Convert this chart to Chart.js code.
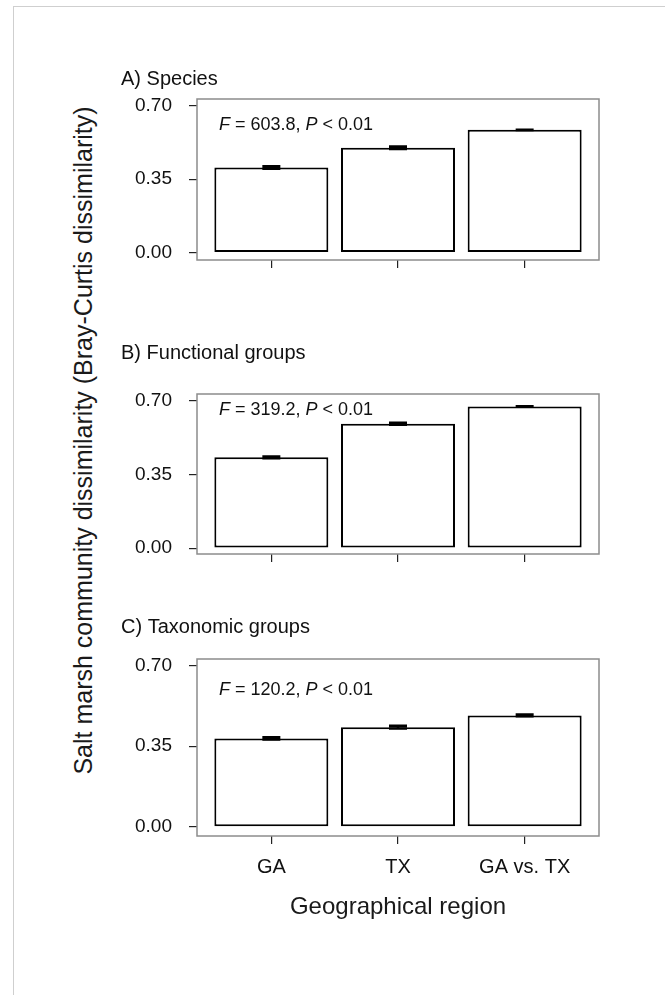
<!DOCTYPE html>
<html>
<head>
<meta charset="utf-8">
<script src="https://cdn.jsdelivr.net/npm/chart.js@4.4.1/dist/chart.umd.min.js"></script>
<style>
    body { margin: 0; background: #fff; }
    #page { position: relative; width: 665px; height: 995px; overflow: hidden; background: #fff; }
    #frame { position: absolute; left: 13px; top: 6px; width: 700px; height: 1100px;
             border-top: 1px solid #cfcfcf; border-left: 1px solid #cfcfcf; }
    .panel { position: absolute; left: 0; }
    #yTitle { position: absolute; left: -267px; top: 428px; width: 700px; height: 25px; line-height: 25px;
              text-align: center; transform: rotate(-90deg); white-space: nowrap;
              font-family: "Liberation Sans", Arial, sans-serif; font-size: 25px; color: #1a1a1a; }
</style>
</head>
<body>
<div id="page">
    <div id="frame"></div>
    <div id="yTitle">Salt marsh community dissimilarity (Bray-Curtis dissimilarity)</div>
    <div class="panel" style="top:39px"><canvas id="chartA" width="665" height="251"></canvas></div>
    <div class="panel" style="top:334px"><canvas id="chartB" width="665" height="250"></canvas></div>
    <div class="panel" style="top:599px"><canvas id="chartC" width="665" height="323"></canvas></div>
</div>
<script>
// data
const regions = ['GA', 'TX', 'GA vs. TX'];
const speciesMeans = [0.406, 0.500, 0.585];
const speciesErr = [0.006, 0.006, 0.001];
const functionalMeans = [0.431, 0.591, 0.673];
const functionalErr = [0.004, 0.005, 0.001];
const taxonomicMeans = [0.384, 0.433, 0.484];
const taxonomicErr = [0.005, 0.006, 0.004];
const yTicks = [0, 0.35, 0.70];
const panelTitles = ['A) Species', 'B) Functional groups', 'C) Taxonomic groups'];
const fValues = ['603.8', '319.2', '120.2'];
const pText = '< 0.01';

const FONT = '"Liberation Sans", Arial, sans-serif';

// grey frame round the plotting region
const boxPlugin = {
    id: 'box',
    afterDraw(chart) {
        const { ctx, chartArea: a } = chart;
        ctx.save();
        ctx.strokeStyle = '#8c8c8c';
        ctx.lineWidth = 1.5;
        ctx.strokeRect(a.left, a.top, a.right - a.left, a.bottom - a.top);
        ctx.restore();
    }
};

// standard error marks
const errorBarPlugin = {
    id: 'errorBars',
    afterDatasetsDraw(chart, args, opts) {
        const { ctx, scales: { x, y } } = chart;
        const means = chart.data.datasets[0].data;
        ctx.save();
        ctx.strokeStyle = '#000';
        ctx.lineWidth = 2.5;
        means.forEach((d, i) => {
            const px = x.getPixelForValue(d.x);
            const top = y.getPixelForValue(d.y + opts.errors[i]);
            const bot = y.getPixelForValue(d.y - opts.errors[i]);
            ctx.beginPath();
            ctx.moveTo(px, top); ctx.lineTo(px, bot);
            ctx.moveTo(px - 9, top); ctx.lineTo(px + 9, top);
            ctx.moveTo(px - 9, bot); ctx.lineTo(px + 9, bot);
            ctx.stroke();
        });
        ctx.restore();
    }
};

// "F = ..., P < 0.01" with italic letters
const statPlugin = {
    id: 'stat',
    afterDraw(chart, args, opts) {
        const { ctx, chartArea, scales: { y } } = chart;
        let px = chartArea.left + 22;
        const py = y.getPixelForValue(opts.yValue);
        const parts = [
            ['italic', 'F'], ['normal', ' = ' + opts.f + ', '], ['italic', 'P'], ['normal', ' ' + pText]
        ];
        ctx.save();
        ctx.fillStyle = '#111';
        ctx.textBaseline = 'alphabetic';
        parts.forEach(([style, txt]) => {
            ctx.font = style + ' 18px ' + FONT;
            ctx.fillText(txt, px, py);
            px += ctx.measureText(txt).width;
        });
        ctx.restore();
    }
};

function makePanel(id, p) {
    const points = p.means.map((v, i) => ({ x: i, y: v }));
    new Chart(document.getElementById(id), {
        type: 'bar',
        data: {
            datasets: [{
                data: points,
                backgroundColor: '#fff',
                borderColor: '#000',
                borderWidth: 2,
                borderSkipped: false,
                categoryPercentage: 1,
                barPercentage: 0.9
            }]
        },
        options: {
            responsive: false,
            animation: false,
            layout: { padding: { left: 121, right: 66, top: 0, bottom: 0 } },
            plugins: {
                legend: { display: false },
                tooltip: { enabled: false },
                title: {
                    display: true,
                    text: p.title,
                    align: 'start',
                    color: '#111',
                    font: { family: FONT, size: 20, weight: 'normal' },
                    padding: { top: p.titleTop, bottom: p.titleBottom }
                },
                errorBars: { errors: p.errors },
                stat: { f: p.f, yValue: p.statY }
            },
            scales: {
                x: {
                    type: 'linear',
                    min: -0.587,
                    max: 2.587,
                    offset: false,
                    afterBuildTicks: s => { s.ticks = regions.map((r, i) => ({ value: i })); },
                    afterFit: s => { s.height = p.xHeight; },
                    border: { display: false },
                    grid: { drawOnChartArea: false, drawTicks: true, tickLength: 8, color: '#222', lineWidth: 1.2, offset: false },
                    ticks: {
                        display: p.showX,
                        autoSkip: false,
                        maxRotation: 0,
                        padding: 11,
                        color: '#111',
                        font: { family: FONT, size: 20 },
                        callback: v => regions[v]
                    },
                    title: {
                        display: p.showX,
                        text: 'Geographical region',
                        color: '#1a1a1a',
                        font: { family: FONT, size: 24 },
                        padding: 0
                    }
                },
                y: {
                    min: p.yMin,
                    max: p.yMax,
                    afterBuildTicks: s => { s.ticks = yTicks.map(v => ({ value: v })); },
                    afterFit: s => { s.width = 76; },
                    border: { display: false },
                    grid: { drawOnChartArea: false, drawTicks: true, tickLength: 8, color: '#222', lineWidth: 1.2 },
                    ticks: {
                        padding: 17,
                        color: '#111',
                        font: { family: FONT, size: 19 },
                        callback: v => v.toFixed(2)
                    }
                }
            }
        },
        plugins: [boxPlugin, errorBarPlugin, statPlugin]
    });
}

makePanel('chartA', {
    title: panelTitles[0], means: speciesMeans, errors: speciesErr, f: fValues[0],
    titleTop: 28, titleBottom: 8, yMin: -0.035, yMax: 0.732, statY: 0.584, xHeight: 30, showX: false
});
makePanel('chartB', {
    title: panelTitles[1], means: functionalMeans, errors: functionalErr, f: fValues[1],
    titleTop: 7, titleBottom: 29, yMin: -0.028, yMax: 0.732, statY: 0.632, xHeight: 30, showX: false
});
makePanel('chartC', {
    title: panelTitles[2], means: taxonomicMeans, errors: taxonomicErr, f: fValues[2],
    titleTop: 16, titleBottom: 20, yMin: -0.04, yMax: 0.729, statY: 0.573, xHeight: 86, showX: true
});
</script>
</body>
</html>
